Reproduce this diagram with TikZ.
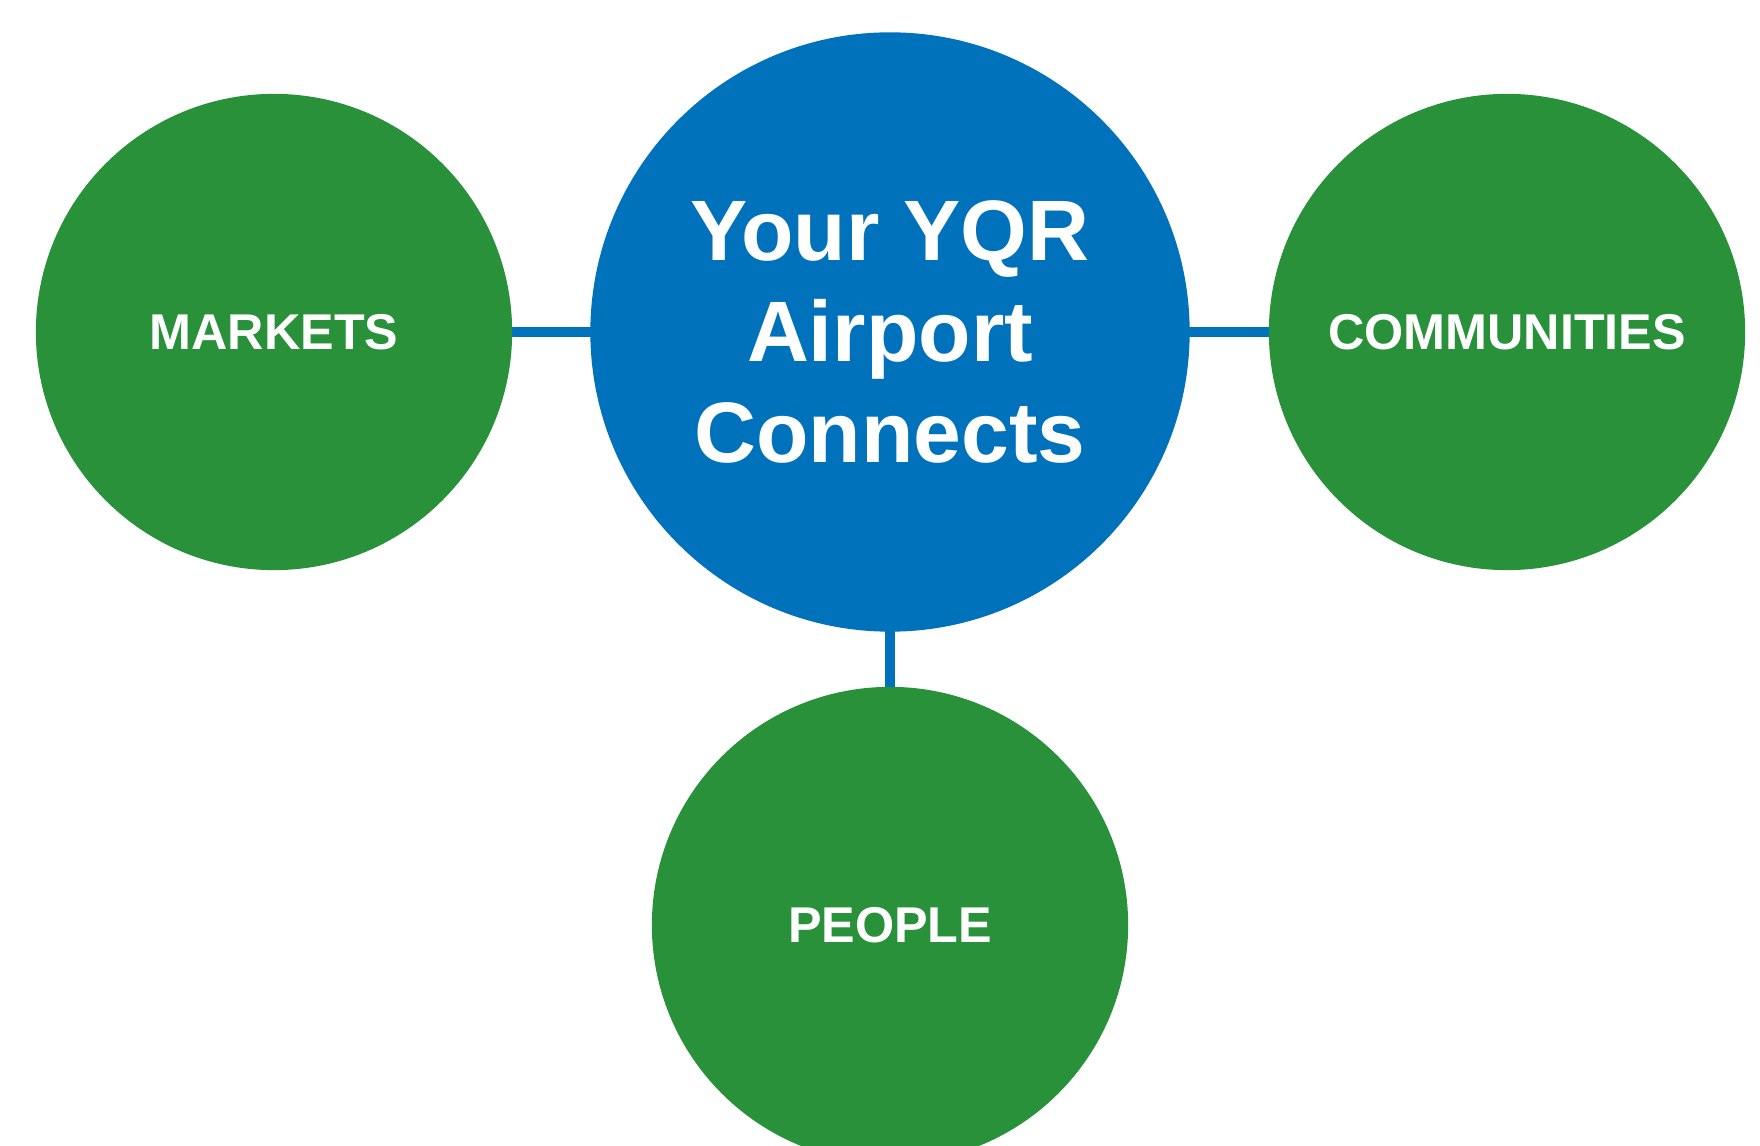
\documentclass[tikz,border=0pt]{standalone}
\usepackage{fontspec}
\setmainfont{Liberation Sans}[BoldFont={Liberation Sans Bold}]
\usetikzlibrary{positioning,backgrounds}

\definecolor{hubblue}{RGB}{0,114,188}
\definecolor{leafgreen}{RGB}{42,145,59}

\tikzset{
    hub/.style={circle, fill=hubblue, minimum size=5.99cm, inner sep=0pt, text=white,
        align=center, font=\fontsize{24.4}{28.8}\selectfont\bfseries},
    leaf/.style={circle, fill=leafgreen, minimum size=4.76cm, inner sep=0pt, text=white,
        font=\fontsize{14.3}{16}\selectfont\bfseries},
    link/.style={draw=hubblue, line width=2.7pt}
}

\begin{document}
\begin{tikzpicture}[x=0.01cm, y=-0.01cm]
        \useasboundingbox (0,0) rectangle (1760,1146);

        \node[hub] (airport) at (890,332) {Your YQR\\Airport\\Connects};
        \node[leaf] (markets) at (274,332) {MARKETS};
        \node[leaf] (communities) at (1507,332) {COMMUNITIES};
        \node[leaf] (people) at (890,925) {PEOPLE};

        % links run centre to centre, under the circles
        \begin{scope}[on background layer]
        \draw[link] (markets.center) -- (airport.center);
        \draw[link] (airport.center) -- (communities.center);
        \draw[link] (airport.center) -- (people.center);
        \end{scope}
    \end{tikzpicture}
\end{document}
